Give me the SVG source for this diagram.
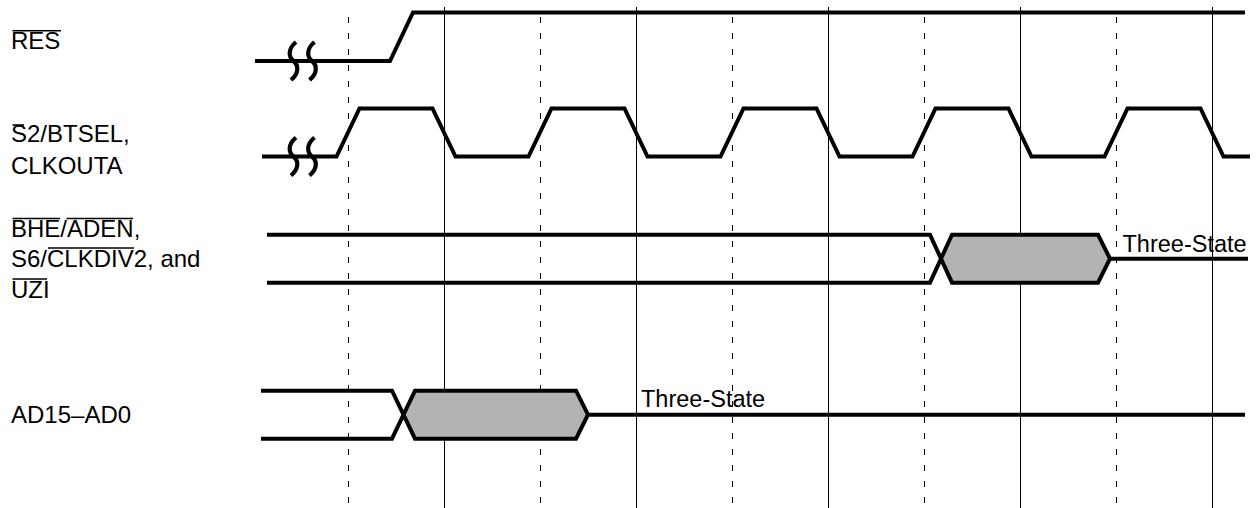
<svg xmlns="http://www.w3.org/2000/svg" width="1257" height="508" viewBox="0 0 1257 508">
<style>
.lbl{font-family:"Liberation Sans",Arial,sans-serif;font-size:24px;fill:#000}
.ts{font-family:"Liberation Sans",Arial,sans-serif;font-size:23.5px;fill:#000}
.ov{stroke:#000;stroke-width:1.6;fill:none}
.sig{stroke:#000;stroke-width:4;fill:none;stroke-linejoin:miter;stroke-miterlimit:6}
.brk{stroke:#000;stroke-width:4.2;fill:none}
.grid{stroke:#000;stroke-width:1;fill:none}
.dash{stroke:#000;stroke-width:1;fill:none;stroke-dasharray:6 10}
.bus{fill:#b3b3b3;stroke:none}
</style>
<defs>
<path id="brkmark" d="M2.5,-19 C-6,-12 -5,-4 0,0 S6,12 -2.5,19"/>
</defs>
<rect width="1257" height="508" fill="#fff"/>
<g id="gridlines">
<path class="grid" d="M444.5,7V508M636.5,7V508M828.5,7V508M1020.5,7V508M1212.5,7V508"/>
<path class="dash" d="M348.5,17V508M540.5,17V508M732.5,17V508M924.5,17V508M1116.5,17V508"/>
</g>
<g id="labels">
<text class="lbl" x="11" y="48.5">RES</text>
<line class="ov" x1="12.5" y1="30.8" x2="61" y2="30.8"/>
<text class="lbl" x="11" y="141.5">S2/BTSEL,</text>
<line class="ov" x1="12.5" y1="125" x2="24" y2="125"/>
<text class="lbl" x="11" y="173.5">CLKOUTA</text>
<text class="lbl" x="11" y="236.7">BHE/ADEN,</text>
<line class="ov" x1="12.5" y1="218.5" x2="60" y2="218.5"/>
<line class="ov" x1="66.5" y1="218.5" x2="133" y2="218.5"/>
<text class="lbl" x="11" y="266.7">S6/CLKDIV2, and</text>
<line class="ov" x1="48" y1="248" x2="134" y2="248"/>
<text class="lbl" x="11" y="297.5">UZI</text>
<line class="ov" x1="12.5" y1="279" x2="47" y2="279"/>
<text class="lbl" x="11" y="423.3">AD15–AD0</text>
</g>
<g id="res">
<path class="sig" d="M255,61H390L413,12.5H1245"/>
<use href="#brkmark" class="brk" x="293.5" y="61"/>
<use href="#brkmark" class="brk" x="312" y="61"/>
</g>
<g id="clkouta">
<path class="sig" d="M262,156.5H336.5L359.5,108.5H432.5L455.5,156.5H528.5L551.5,108.5H624.5L647.5,156.5H720.5L743.5,108.5H816.5L839.5,156.5H912.5L935.5,108.5H1008.5L1031.5,156.5H1104.5L1127.5,108.5H1200.5L1223.5,156.5H1250"/>
<use href="#brkmark" class="brk" x="293.5" y="156.5"/>
<use href="#brkmark" class="brk" x="312" y="156.5"/>
</g>
<g id="bhe">
<polygon class="bus" points="941,258.7 952,234.7 1098,234.7 1110,258.7 1098,282.7 952,282.7"/>
<path class="sig" d="M267,234.7H930L952,282.7H1098L1110,258.7L1098,234.7H952L930,282.7H267"/>
<path class="sig" d="M1110,258.7H1248"/>
<text class="ts" x="1122.5" y="251.7">Three-State</text>
</g>
<g id="ad">
<polygon class="bus" points="403.5,414.7 415,390.7 576,390.7 588,414.7 576,438.7 415,438.7"/>
<path class="sig" d="M261,390.7H392L415,438.7H576L588,414.7L576,390.7H415L392,438.7H261"/>
<path class="sig" d="M588,414.7H1245"/>
<text class="ts" x="641" y="406.7">Three-State</text>
</g>
</svg>
